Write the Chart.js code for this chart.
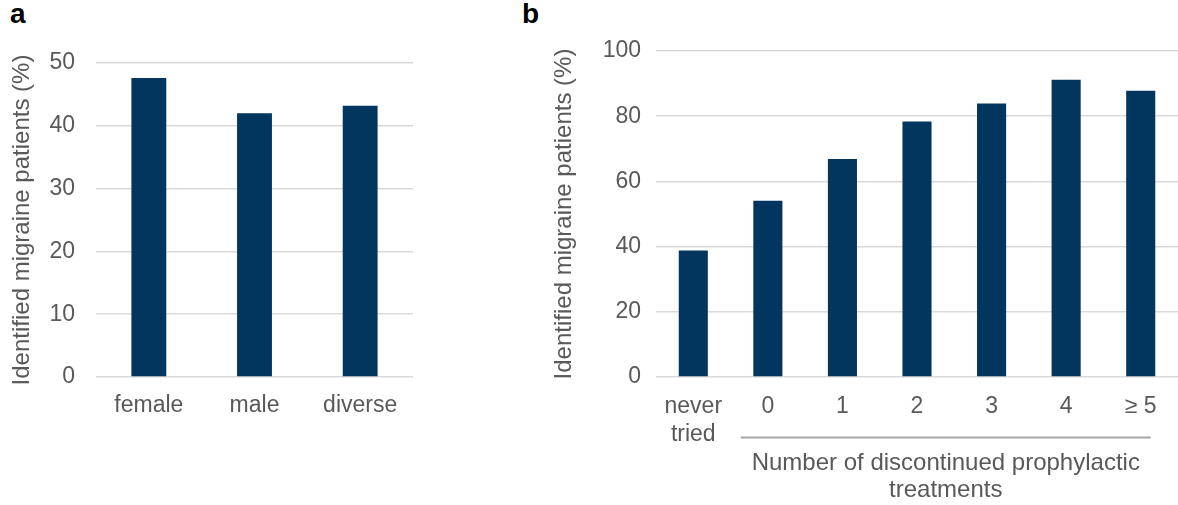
<!DOCTYPE html>
<html>
<head>
<meta charset="utf-8">
<script src="https://cdn.jsdelivr.net/npm/chart.js@4"></script>
<style>
  html, body { margin:0; padding:0; background:#fff; }
  body { width:1178px; height:505px; position:relative; overflow:hidden; font-family:"Liberation Sans", Arial, sans-serif; }
  canvas { position:absolute; top:0; }
  .lbl { position:absolute; top:0; font-weight:bold; font-size:28px; line-height:28px; color:#000; }
</style>
</head>
<body>
<div class="lbl" style="left:10px">a</div>
<div class="lbl" style="left:522px">b</div>
<canvas id="ca" width="420" height="505" style="left:0"></canvas>
<canvas id="cb" width="658" height="505" style="left:520px"></canvas>
<script>
// ---- data ----
const sexCategories = ['female', 'male', 'diverse'];
const sexValues = [47.6, 42.0, 43.2];
const treatCategories = [['never', 'tried'], '0', '1', '2', '3', '4', '≥ 5'];
const treatValues = [38.8, 54.1, 66.9, 78.4, 83.9, 91.2, 87.8];
const yTitle = 'Identified migraine patients (%)';
const xTitleB = ['Number of discontinued prophylactic', 'treatments'];

const BAR = '#03365f';
const TXT = '#595959';
const GRID = '#d9d9d9';
const FONT = '"Liberation Sans", Arial, sans-serif';

function makeOpts(cfg) {
  return {
    responsive: false,
    animation: false,
    layout: { padding: cfg.padding },
    plugins: { legend: { display: false }, tooltip: { enabled: false } },
    scales: {
      x: {
        grid: { display: false, drawTicks: false },
        border: { display: false },
        ticks: { color: TXT, font: { family: FONT, size: cfg.fs, lineHeight: cfg.xlh }, padding: 15, maxRotation: 0, autoSkip: false },
        afterFit: s => { s.height = cfg.xh; }
      },
      y: {
        min: 0, max: cfg.max,
        grid: { color: GRID, lineWidth: 1.5, drawTicks: false },
        border: { display: false },
        ticks: { stepSize: cfg.step, color: TXT, font: { family: FONT, size: cfg.fs }, padding: cfg.tp },
        title: { display: true, text: yTitle, color: TXT, font: { family: FONT, size: cfg.tfs, lineHeight: 1.2 }, padding: { top: cfg.ttp, bottom: 0 } },
        afterFit: s => { s.width = cfg.yw; }
      }
    }
  };
}

new Chart(document.getElementById('ca'), {
  type: 'bar',
  data: { labels: sexCategories, datasets: [{ data: sexValues, backgroundColor: BAR, categoryPercentage: 1, barPercentage: 0.33 }] },
  options: makeOpts({ padding: { top: 63, right: 7, left: 0, bottom: 0 }, fs: 23, tfs: 24, xlh: 1.2, xh: 128, max: 50, step: 10, tp: 21, ttp: 8, yw: 96 })
});

const bracketPlugin = {
  id: 'bracket',
  afterDraw(chart) {
    const ctx = chart.ctx;
    const xs = chart.scales.x;
    const x0 = xs.getPixelForValue(1) - 27;
    const x1 = xs.getPixelForValue(6) + 10;
    ctx.save();
    ctx.strokeStyle = '#a6a6a6';
    ctx.lineWidth = 2;
    ctx.beginPath();
    ctx.moveTo(x0, 437.5);
    ctx.lineTo(x1, 437.5);
    ctx.stroke();
    ctx.fillStyle = TXT;
    ctx.font = '24px ' + FONT;
    ctx.textAlign = 'center';
    ctx.textBaseline = 'middle';
    const cx = (x0 + x1) / 2;
    ctx.fillText(xTitleB[0], cx, 463);
    ctx.fillText(xTitleB[1], cx, 490);
    ctx.restore();
  }
};

new Chart(document.getElementById('cb'), {
  type: 'bar',
  data: { labels: treatCategories, datasets: [{ data: treatValues, backgroundColor: BAR, categoryPercentage: 1, barPercentage: 0.39 }] },
  options: makeOpts({ padding: { top: 51, right: 0, left: 0, bottom: 0 }, fs: 23, tfs: 24, xlh: 1.24, xh: 128, max: 100, step: 20, tp: 15, ttp: 30, yw: 136 }),
  plugins: [bracketPlugin]
});
</script>
</body>
</html>
